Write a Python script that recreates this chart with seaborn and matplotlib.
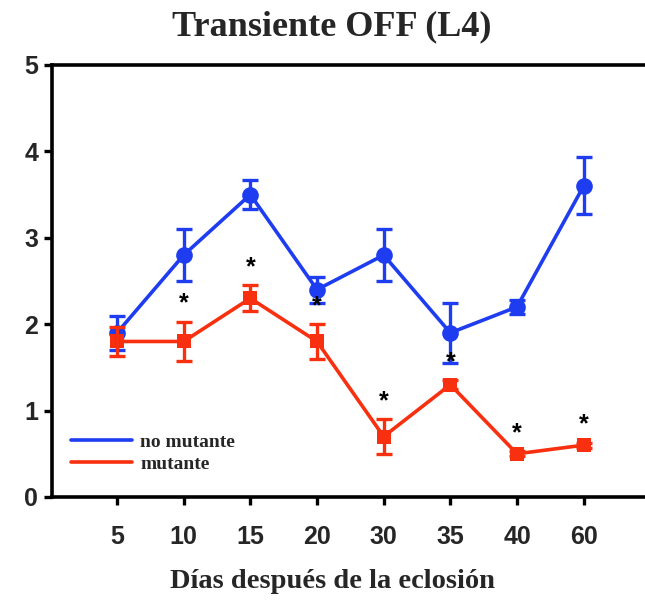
import numpy as np
import pandas as pd
import seaborn as sns
import matplotlib
matplotlib.use("Agg")
import matplotlib.pyplot as plt
from matplotlib.lines import Line2D

days = ["5", "10", "15", "20", "30", "35", "40", "60"]
no_mutante = [1.9, 2.8, 3.5, 2.4, 2.8, 1.9, 2.2, 3.6]
no_mutante_err = [0.2, 0.3, 0.17, 0.15, 0.3, 0.35, 0.08, 0.33]
mutante = [1.8, 1.8, 2.3, 1.8, 0.7, 1.3, 0.5, 0.6]
mutante_err = [0.17, 0.23, 0.15, 0.2, 0.2, 0.05, 0.03, 0.03]
significant = [False, True, True, True, True, True, True, True]

BLUE = "#1e3cf0"
RED = "#f8300f"

sns.set_style("white")
plt.rcParams["font.family"] = ["Liberation Sans", "DejaVu Sans"]

fig = plt.figure(figsize=(6.45, 6.06), dpi=100)
ax = fig.add_axes([52 / 645, 1 - 497 / 606, 1 - 52 / 645, 432 / 606])

pos = np.arange(len(days))
df = pd.DataFrame({
    "pos": np.concatenate([pos, pos]),
    "val": no_mutante + mutante,
    "grp": ["no mutante"] * len(days) + ["mutante"] * len(days),
})

sns.lineplot(data=df[df.grp == "no mutante"], x="pos", y="val", color=BLUE,
             lw=2.6, marker="o", markersize=12, markeredgewidth=0, ax=ax, legend=False)
sns.lineplot(data=df[df.grp == "mutante"], x="pos", y="val", color=RED,
             lw=2.6, marker="s", markersize=10.5, markeredgewidth=0, ax=ax, legend=False)
ax.errorbar(pos, no_mutante, yerr=no_mutante_err, fmt="none", ecolor=BLUE,
            elinewidth=2.4, capsize=5.5, capthick=2.4, zorder=3)
ax.errorbar(pos, mutante, yerr=mutante_err, fmt="none", ecolor=RED,
            elinewidth=2.4, capsize=5.5, capthick=2.4, zorder=3)

for p, m, e, s in zip(pos, mutante, mutante_err, significant):
    if s:
        ax.text(p, m + e + 0.07, "*", ha="center", va="bottom", fontsize=18,
                fontweight="bold", color="black", family="Liberation Sans")

ax.set_xlim(-0.975, 7.92)
ax.set_ylim(0, 5)
ax.set_xticks(pos)
ax.set_xticklabels(days)
ax.set_yticks(range(6))
for lab in ax.get_xticklabels() + ax.get_yticklabels():
    lab.set_fontweight("bold")
    lab.set_fontsize(18)
ax.tick_params(axis="both", which="major", direction="out", length=6, width=2.4,
               color="black", pad=4, bottom=True, left=True)
ax.tick_params(axis="x", pad=14)

for side in ["left", "top", "bottom"]:
    ax.spines[side].set_linewidth(2.6)
    ax.spines[side].set_color("black")
ax.spines["right"].set_visible(False)

ax.set_xlabel("")
ax.set_ylabel("")
fig.text(332 / 645, 1 - 581 / 606, "Días después de la eclosión", fontsize=20.5,
         fontweight="bold", family="Liberation Serif", ha="center", va="center")
fig.text(332 / 645, 1 - 27 / 606, "Transiente OFF (L4)", fontsize=26,
         fontweight="bold", family="Liberation Serif", ha="center", va="center")

handles = [Line2D([], [], color=BLUE, lw=2.6), Line2D([], [], color=RED, lw=2.6)]
ax.legend(handles, ["no mutante", "mutante"], loc="lower left",
          bbox_to_anchor=(0.003, 0.015), frameon=False, handlelength=3.1,
          handletextpad=0.45, labelspacing=0.25,
          prop={"family": "Liberation Serif", "weight": "bold", "size": 14})

fig.savefig("out.png", dpi=100)
